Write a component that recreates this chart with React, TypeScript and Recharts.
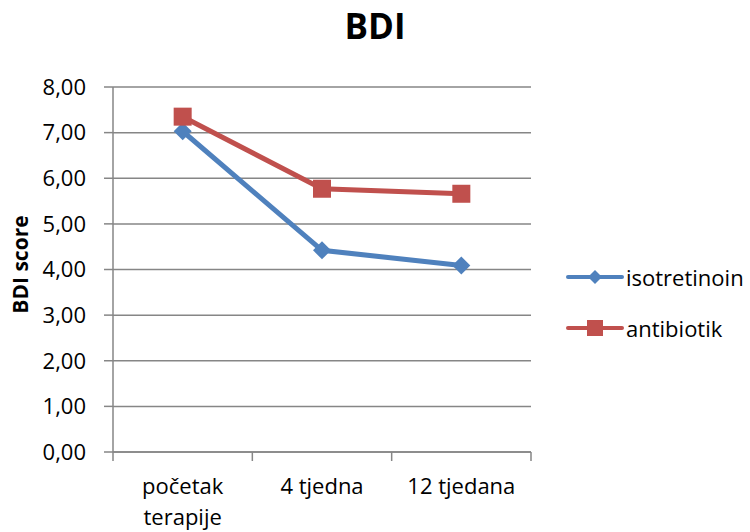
import { CartesianGrid, Legend, Line, LineChart, XAxis, YAxis } from "recharts";

const categories = ["početak terapije", "4 tjedna", "12 tjedana"];
const tickLabels = [["početak", "terapije"], ["4 tjedna"], ["12 tjedana"]];
const isotretinoin = [7.03, 4.42, 4.09];
const antibiotik = [7.35, 5.77, 5.66];
const yTicks = [0, 1, 2, 3, 4, 5, 6, 7, 8];

const FONT = "'Open Sans', sans-serif";
const GRID = "#868686";
const BLUE = "#4F81BD";
const RED = "#C0504D";

const data = categories.map((cat, i) => ({
  cat,
  isotretinoin: isotretinoin[i],
  antibiotik: antibiotik[i],
}));

const fmt = (v: number) => v.toFixed(2).replace(".", ",");

const Diamond = ({ cx, cy, r = 9, fill }: { cx?: number; cy?: number; r?: number; fill: string }) => {
  if (cx == null || cy == null) return null;
  return <path d={`M${cx},${cy - r}L${cx + r},${cy}L${cx},${cy + r}L${cx - r},${cy}Z`} fill={fill} />;
};

const Square = ({ cx, cy, r = 9, fill }: { cx?: number; cy?: number; r?: number; fill: string }) => {
  if (cx == null || cy == null) return null;
  return <rect x={cx - r} y={cy - r} width={r * 2} height={r * 2} fill={fill} />;
};

// category label + Excel-style tick marks on the band edges
const CatTick = (props: any) => {
  const { x = 0, y = 0, payload, index = 0, width = 0, visibleTicksCount = 1 } = props;
  const half = typeof payload?.offset === "number" && payload.offset > 0 ? payload.offset : width / visibleTicksCount / 2;
  const lines = tickLabels[index] ?? [String(payload?.value)];
  const isLast = index === visibleTicksCount - 1;
  return (
    <g>
      <line x1={x - half} x2={x - half} y1={y} y2={y + 9} stroke={GRID} strokeWidth={1.5} />
      {isLast && <line x1={x + half} x2={x + half} y1={y} y2={y + 9} stroke={GRID} strokeWidth={1.5} />}
      <text x={x} y={y + 42} textAnchor="middle" style={{ fontFamily: FONT, fontSize: 22, fill: "#000" }}>
        {lines.map((l, i) => (
          <tspan key={l} x={x} dy={i === 0 ? 0 : 31}>
            {l}
          </tspan>
        ))}
      </text>
    </g>
  );
};

const series = [
  { name: "isotretinoin", color: BLUE, shape: "diamond" },
  { name: "antibiotik", color: RED, shape: "square" },
];

const LegendBox = () => (
  <div style={{ fontFamily: FONT, fontSize: 22, color: "#000" }}>
    {series.map((s) => (
      <div key={s.name} style={{ display: "flex", alignItems: "center", height: 51 }}>
        <svg width={58} height={24} style={{ marginRight: 2 }}>
          <line x1={2} y1={12} x2={56} y2={12} stroke={s.color} strokeWidth={4} strokeLinecap="round" />
          {s.shape === "diamond" ? (
            <Diamond cx={29} cy={12} r={7} fill={s.color} />
          ) : (
            <Square cx={29} cy={12} r={8} fill={s.color} />
          )}
        </svg>
        <span>{s.name}</span>
      </div>
    ))}
  </div>
);

const YLabel = ({ viewBox }: { viewBox?: { x: number; y: number; width: number; height: number } }) => {
  if (!viewBox) return null;
  const x = viewBox.x + 20;
  const y = viewBox.y + viewBox.height / 2 - 5;
  return (
    <text
      x={x}
      y={y}
      transform={`rotate(-90, ${x}, ${y})`}
      textAnchor="middle"
      dominantBaseline="central"
      style={{ fontFamily: FONT, fontSize: 21, fontWeight: 700, fill: "#000" }}
    >
      BDI score
    </text>
  );
};

export default function App() {
  return (
    <div style={{ position: "absolute", left: 0, top: 0, width: 750, height: 532, background: "#fff" }}>
      <div
        style={{
          position: "absolute",
          left: 0,
          top: 2,
          width: 750,
          textAlign: "center",
          fontFamily: FONT,
          fontWeight: 700,
          fontSize: 35,
          lineHeight: "normal",
          zIndex: 2,
        }}
      >
        BDI
      </div>
      <LineChart width={750} height={532} data={data} margin={{ top: 87, right: 219, bottom: 0, left: 0 }}>
        <CartesianGrid vertical={false} stroke={GRID} strokeWidth={1.5} />
        <XAxis
          dataKey="cat"
          scale="band"
          height={80}
          axisLine={{ stroke: GRID, strokeWidth: 1.5 }}
          tickLine={false}
          tickSize={0}
          tickMargin={0}
          interval={0}
          tick={<CatTick />}
        />
        <YAxis
          width={113}
          domain={[0, 8]}
          ticks={yTicks}
          tickFormatter={fmt}
          tickSize={9}
          tickMargin={18}
          axisLine={{ stroke: GRID, strokeWidth: 1.5 }}
          tickLine={{ stroke: GRID, strokeWidth: 1.5 }}
          tick={{ fontFamily: FONT, fontSize: 22, fill: "#000" }}
          label={<YLabel />}
        />
        <Legend
          layout="horizontal"
          verticalAlign="middle"
          content={<LegendBox />}
          wrapperStyle={{ left: 566, top: 251, width: 184 }}
        />
        <Line
          dataKey="isotretinoin"
          stroke={BLUE}
          strokeWidth={5}
          dot={(p: any) => <Diamond key={`d${p.index}`} cx={p.cx} cy={p.cy} r={9} fill={BLUE} />}
          activeDot={false}
          isAnimationActive={false}
        />
        <Line
          dataKey="antibiotik"
          stroke={RED}
          strokeWidth={5}
          dot={(p: any) => <Square key={`s${p.index}`} cx={p.cx} cy={p.cy} r={9} fill={RED} />}
          activeDot={false}
          isAnimationActive={false}
        />
      </LineChart>
    </div>
  );
}
